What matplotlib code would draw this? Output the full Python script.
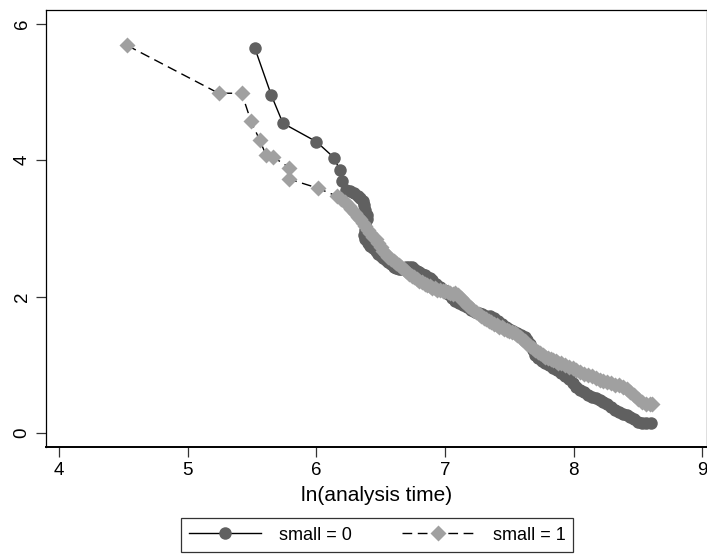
import matplotlib
matplotlib.use("Agg")
import matplotlib.pyplot as plt
from matplotlib.lines import Line2D

plt.rcParams['font.family'] = ['Liberation Sans', 'DejaVu Sans']

# small = 0 (dark circles, solid line)
x0 = [5.52, 5.65, 5.74, 6.00, 6.14, 6.18, 6.20,
      6.23, 6.26, 6.29, 6.32, 6.34, 6.36, 6.37, 6.38, 6.39, 6.39, 6.38, 6.38,
      6.37, 6.38, 6.40, 6.42, 6.44, 6.46, 6.48, 6.50, 6.52, 6.54, 6.56, 6.58,
      6.60, 6.62, 6.64, 6.66, 6.68, 6.70, 6.72, 6.74, 6.76, 6.78, 6.80, 6.82,
      6.84, 6.86, 6.88, 6.90, 6.93, 6.96, 6.99, 7.02, 7.05, 7.08, 7.11, 7.14,
      7.17, 7.20, 7.23, 7.26, 7.29, 7.32, 7.35, 7.38, 7.41, 7.44, 7.47, 7.50,
      7.53, 7.56, 7.59, 7.62, 7.64, 7.66, 7.68, 7.70, 7.72, 7.75, 7.78, 7.81,
      7.84, 7.87, 7.90, 7.93, 7.96, 7.99, 8.02, 8.05, 8.08, 8.11, 8.14, 8.17,
      8.20, 8.23, 8.26, 8.29, 8.32, 8.35, 8.38, 8.41, 8.44, 8.47, 8.50, 8.53,
      8.56, 8.60]
y0 = [5.65, 4.95, 4.54, 4.27, 4.03, 3.85, 3.69,
      3.56, 3.54, 3.52, 3.48, 3.45, 3.40, 3.34, 3.27, 3.20, 3.14, 3.06, 2.98,
      2.90, 2.85, 2.79, 2.74, 2.71, 2.67, 2.63, 2.60, 2.57, 2.54, 2.51, 2.47,
      2.44, 2.42, 2.41, 2.41, 2.42, 2.43, 2.44, 2.44, 2.41, 2.38, 2.36, 2.33,
      2.31, 2.29, 2.27, 2.24, 2.19, 2.14, 2.09, 2.04, 1.98, 1.94, 1.90, 1.87,
      1.84, 1.81, 1.78, 1.76, 1.74, 1.72, 1.71, 1.68, 1.64, 1.60, 1.56, 1.53,
      1.50, 1.47, 1.44, 1.41, 1.36, 1.30, 1.22, 1.15, 1.10, 1.06, 1.03, 0.99,
      0.96, 0.92, 0.88, 0.84, 0.79, 0.74, 0.68, 0.63, 0.60, 0.56, 0.53, 0.51,
      0.49, 0.46, 0.42, 0.38, 0.34, 0.31, 0.28, 0.26, 0.23, 0.20, 0.16, 0.14,
      0.14, 0.14]

# small = 1 (light diamonds, dashed line)
x1 = [4.53, 5.24, 5.42, 5.49, 5.56, 5.61, 5.66, 5.79, 5.79, 6.01,
      6.16, 6.19, 6.22, 6.25, 6.27, 6.30, 6.32, 6.34, 6.36, 6.38, 6.40, 6.42,
      6.44, 6.46, 6.48, 6.50, 6.52, 6.54, 6.56, 6.58, 6.60, 6.62, 6.64, 6.66,
      6.68, 6.70, 6.72, 6.74, 6.76, 6.78, 6.80, 6.82, 6.84, 6.86, 6.88, 6.90,
      6.92, 6.94, 6.96, 6.98, 7.00, 7.02, 7.04, 7.06, 7.08, 7.10, 7.12, 7.14,
      7.16, 7.18, 7.20, 7.22, 7.24, 7.26, 7.28, 7.30, 7.32, 7.34, 7.36, 7.38,
      7.40, 7.42, 7.44, 7.46, 7.48, 7.50, 7.52, 7.54, 7.56, 7.58, 7.60, 7.62,
      7.64, 7.66, 7.68, 7.70, 7.72, 7.74, 7.76, 7.78, 7.80, 7.82, 7.84, 7.86,
      7.88, 7.90, 7.93, 7.96, 7.99, 8.02, 8.05, 8.08, 8.11, 8.14, 8.17, 8.20,
      8.23, 8.26, 8.29, 8.32, 8.35, 8.38, 8.41, 8.44, 8.47, 8.50, 8.53, 8.56,
      8.59, 8.61]
y1 = [5.68, 4.98, 4.98, 4.58, 4.29, 4.07, 4.05, 3.89, 3.72, 3.59,
      3.47, 3.43, 3.38, 3.33, 3.28, 3.22, 3.17, 3.13, 3.08, 3.03, 2.98, 2.93,
      2.88, 2.84, 2.79, 2.73, 2.67, 2.62, 2.58, 2.55, 2.52, 2.49, 2.46, 2.43,
      2.40, 2.37, 2.33, 2.30, 2.28, 2.26, 2.23, 2.21, 2.19, 2.17, 2.15, 2.13,
      2.12, 2.10, 2.09, 2.08, 2.08, 2.07, 2.05, 2.04, 2.05, 2.03, 1.98, 1.94,
      1.90, 1.86, 1.83, 1.80, 1.77, 1.74, 1.72, 1.69, 1.67, 1.64, 1.62, 1.60,
      1.58, 1.56, 1.55, 1.53, 1.51, 1.50, 1.48, 1.46, 1.43, 1.41, 1.38, 1.35,
      1.31, 1.28, 1.25, 1.22, 1.19, 1.17, 1.14, 1.12, 1.10, 1.08, 1.07, 1.05,
      1.03, 1.02, 1.00, 0.97, 0.95, 0.93, 0.90, 0.87, 0.85, 0.83, 0.81, 0.78,
      0.76, 0.75, 0.73, 0.71, 0.70, 0.67, 0.64, 0.60, 0.55, 0.50, 0.46, 0.43,
      0.42, 0.43]

xticks = [4, 5, 6, 7, 8, 9]
yticks = [0, 2, 4, 6]
labels = ["small = 0", "small = 1"]

dark = "#606060"
light = "#a0a0a0"

fig = plt.figure(figsize=(7.07, 5.57), dpi=100)
ax = fig.add_axes([46/707, 110/557, 661/707, 437/557])

ax.plot(x0, y0, color="black", lw=1.0, zorder=2)
ax.plot(x0, y0, ls="none", marker="o", ms=9, color=dark, mec="none", zorder=3)
ax.plot(x1, y1, color="black", lw=1.0, ls=(0, (7, 4)), zorder=4)
ax.plot(x1, y1, ls="none", marker="D", ms=8.4, color=light, mec="none", zorder=5)

ax.set_xlim(3.899, 9.035)
ax.set_ylim(-0.205, 6.20)
ax.set_xticks(xticks)
ax.set_yticks(yticks)
ax.tick_params(axis="both", direction="out", length=7, width=0.9, labelsize=13.5, color="#333333")
ax.tick_params(axis="y", labelrotation=90, pad=4)
for lab in ax.get_yticklabels():
    lab.set_va("center")
for s in ax.spines.values():
    s.set_linewidth(0.9)
ax.spines["bottom"].set_linewidth(1.4)

ax.set_xlabel("ln(analysis time)", fontsize=15, labelpad=5)

h0 = Line2D([], [], color="black", lw=1.0, marker="o", ms=9, mfc=dark, mec="none")
h1 = Line2D([], [], color="black", lw=1.0, ls=(0, (7, 4)), marker="D", ms=8.4, mfc=light, mec="none")
leg = fig.legend([h0, h1], labels, loc="center", bbox_to_anchor=(377/707, 1 - 535/557),
                 ncol=2, frameon=True, fancybox=False, edgecolor="black", fontsize=13,
                 handlelength=4.0, numpoints=1, columnspacing=2.8, borderpad=0.45,
                 handletextpad=1.0, borderaxespad=0.0)
leg.get_frame().set_linewidth(0.9)

fig.savefig("out.png", dpi=100)
